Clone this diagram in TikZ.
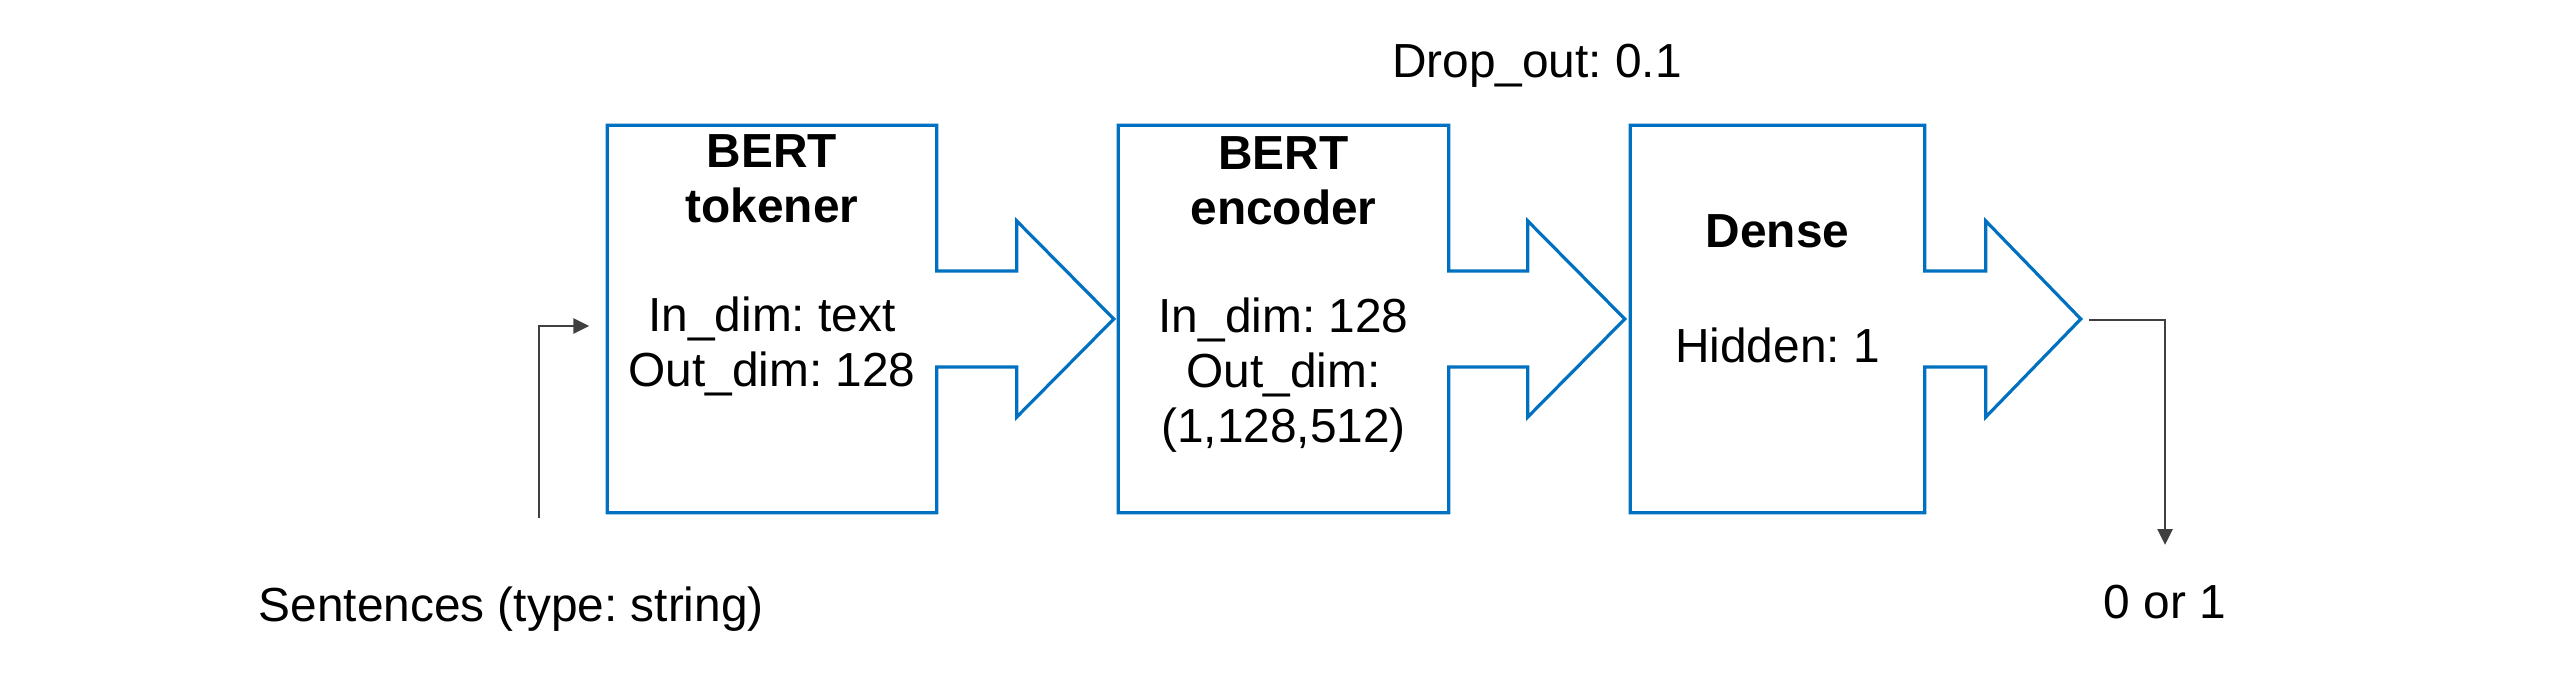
\documentclass[tikz,border=0pt]{standalone}
\usepackage{fontspec}
\setmainfont{Liberation Sans}
\usetikzlibrary{arrows.meta, positioning, calc}
\definecolor{boxblue}{RGB}{0,112,192}
\frenchspacing

\newcommand{\diagfont}{\fontsize{13.6}{15.6}\selectfont}

% outline of a box with a block arrow on its right side
\newcommand{\blockarrow}[3]{%
  \draw[blockline] (#1.north west) -- (#1.north east)
    -- ($(#1.east)+(0,48)$) -- ($(#1.east)+(#2,48)$) -- ($(#1.east)+(#2,98)$)
    -- ($(#1.east)+(#2+#3,0)$)
    -- ($(#1.east)+(#2,-98)$) -- ($(#1.east)+(#2,-48)$) -- ($(#1.east)+(0,-48)$)
    -- (#1.south east) -- (#1.south west) -- cycle;}

\begin{document}
\begin{tikzpicture}[
    x=0.01cm, y=0.01cm,
    font=\diagfont,
    blockbox/.style={inner sep=0pt, minimum height=3.86cm},
    blockline/.style={draw=boxblue, line width=0.9pt},
    title/.style={font=\diagfont\bfseries, align=center, anchor=base, inner sep=0pt},
    body/.style={align=center, anchor=base, inner sep=0pt},
    lbl/.style={inner sep=0pt},
    conn/.style={-{Triangle[length=4.5pt, width=4.3pt]}, draw=black!75, line width=0.6pt}
]

\useasboundingbox (0,0) rectangle (2560,679);

\node[blockbox, minimum width=3.28cm] (tokener) at (772,360) {};
\node[blockbox, minimum width=3.29cm] (encoder) at (1283.5,360) {};
\node[blockbox, minimum width=2.93cm] (dense) at (1777.5,360) {};

\blockarrow{tokener}{80}{97}
\blockarrow{encoder}{79}{97}
\blockarrow{dense}{61}{95}

% base anchor sits on the last line
\node[title] (tokenertitle) at ([yshift=-0.97cm]tokener.north) {BERT\\tokener};
\node[body] (tokenerdims) at ([yshift=-2.61cm]tokener.north) {In\_dim: text\\Out\_dim: 128};

\node[title] (encodertitle) at ([yshift=-0.99cm]encoder.north) {BERT\\encoder};
\node[body] (encoderdims) at ([yshift=-3.17cm]encoder.north) {In\_dim: 128\\Out\_dim:\\(1,128,512)};

\node[title] (densetitle) at ([yshift=-1.22cm]dense.north) {Dense};
\node[body] (densedims) at ([yshift=-2.37cm]dense.north) {Hidden: 1};

\node[lbl, anchor=base] (dropout) at (1537,601) {Drop\_out: 0.1};

\node[lbl, anchor=base west] (sentences) at (258,57) {Sentences (type: string)};
\coordinate (instart) at (539,161);
\draw[conn] (instart) |- ([xshift=-0.18cm,yshift=-0.07cm]tokener.west);

\node[lbl, anchor=base] (result) at (2165,60) {0 or 1};
\coordinate (outstart) at ($(dense.east)+(164,-1)$);
\draw[conn] (outstart) -| ([yshift=0.4cm]result.north);

\end{tikzpicture}
\end{document}
